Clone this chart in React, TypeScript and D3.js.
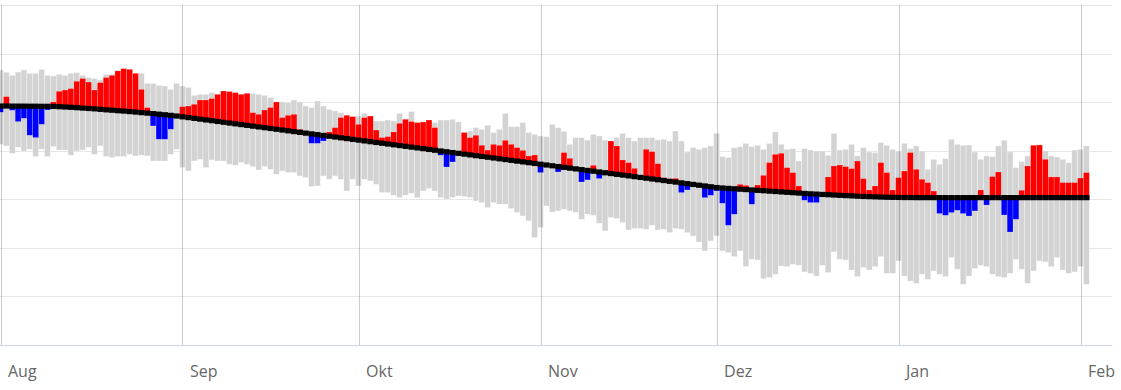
import React, { useEffect, useRef } from 'react'
import * as d3 from 'd3'

// daily values, 1 Aug .. 2 Feb (one row per month)
const START = Date.UTC(2019, 7, 1)
const END_TICK = Date.UTC(2020, 1, 1)
const DAY = 864e5

const monthLabels = ['Aug', 'Sep', 'Okt', 'Nov', 'Dez', 'Jan', 'Feb']
const yTicks = [-15, -10, -5, 0, 5, 10, 15, 20]

const maxTemp = [
  13.31, 13.07, 12.76, 13.10, 13.31, 12.97, 12.97, 13.38, 12.76, 12.69, 12.87, 12.76, 12.97, 13.04, 12.76, 12.53, 12.43, 12.28, 12.87, 12.87, 13.28, 13.45, 13.38, 12.97, 12.97, 11.94, 11.94, 11.74, 11.66, 11.32, 11.94,
  11.66, 11.53, 10.71, 10.81, 10.81, 10.98, 10.81, 11.15, 11.09, 10.98, 10.81, 10.91, 10.91, 10.81, 10.71, 10.47, 10.02, 10.02, 9.95, 10.22, 10.02, 9.60, 9.44, 10.12, 9.60, 9.26, 9.09, 8.92, 8.65, 8.51,
  8.57, 8.85, 8.57, 8.06, 8.06, 8.16, 8.06, 8.85, 8.24, 9.03, 7.90, 7.96, 8.16, 7.90, 8.16, 8.16, 8.24, 7.96, 6.87, 7.03, 7.38, 7.21, 7.62, 6.87, 7.21, 8.85, 7.48, 7.48, 7.90, 6.87, 6.69,
  6.52, 6.45, 7.72, 7.38, 7.00, 5.66, 6.35, 6.35, 6.10, 6.69, 6.52, 6.10, 6.00, 6.35, 6.79, 6.35, 6.00, 6.35, 6.35, 6.35, 6.10, 6.18, 6.00, 7.03, 6.00, 4.87, 5.32, 5.15, 5.32, 5.49,
  6.79, 4.40, 4.29, 5.32, 5.42, 5.76, 5.42, 5.56, 5.15, 5.76, 6.93, 5.66, 5.15, 5.22, 3.94, 5.22, 5.07, 4.97, 4.97, 4.53, 6.79, 5.07, 5.15, 5.66, 4.46, 5.32, 4.87, 4.81, 5.84, 5.56, 5.15,
  4.97, 5.76, 5.22, 5.49, 4.97, 3.09, 4.12, 3.60, 4.19, 6.18, 5.66, 5.56, 5.59, 4.87, 4.12, 4.46, 4.40, 5.49, 6.07, 4.87, 3.26, 3.88, 4.46, 5.59, 5.63, 4.97, 4.46, 4.35, 4.12, 3.78, 5.07,
  5.15, 5.49,
]

const minTemp = [
  5.66, 5.49, 4.74, 5.35, 4.97, 5.15, 4.40, 5.15, 4.40, 5.42, 5.07, 5.07, 4.53, 4.97, 5.07, 5.35, 4.63, 5.49, 4.40, 4.29, 4.40, 4.40, 4.63, 4.46, 4.53, 4.46, 3.94, 3.94, 3.94, 4.63, 5.15,
  3.26, 2.91, 3.94, 4.12, 3.26, 4.05, 3.94, 3.94, 3.60, 3.50, 3.78, 3.60, 3.37, 3.02, 3.37, 3.09, 2.57, 2.91, 2.75, 2.75, 2.40, 2.23, 1.31, 1.37, 2.40, 2.06, 2.40, 2.06, 0.85, 2.06,
  1.37, 2.06, 1.88, 1.54, 0.69, 0.69, 0.41, 0.17, 0.41, 0.62, 0.17, 0.85, 1.10, 0.85, 0.17, 0.00, 0.17, 0.34, 0.28, 0.17, -0.17, -0.34, -0.85, -0.34, -0.51, -0.51, -0.96, -1.37, -1.72, -2.23, -3.94,
  -2.91, -0.69, -1.31, -1.20, -1.03, -1.20, -1.34, -2.06, -1.54, -1.65, -2.47, -3.26, -1.88, -1.99, -2.40, -3.16, -3.02, -3.02, -3.09, -2.68, -3.16, -3.09, -3.43, -3.02, -3.09, -3.43, -3.78, -4.40, -5.32, -4.29,
  -3.78, -5.32, -5.49, -5.90, -5.32, -6.93, -6.18, -6.25, -8.16, -8.06, -7.72, -6.87, -6.93, -6.69, -6.79, -7.48, -7.62, -7.90, -6.79, -7.55, -5.42, -6.18, -6.25, -7.28, -7.96, -7.03, -7.28, -6.93, -5.90, -7.62, -7.62,
  -6.35, -7.90, -8.41, -8.65, -7.72, -8.24, -7.38, -7.72, -7.96, -6.00, -7.21, -8.75, -7.90, -7.13, -6.79, -6.93, -7.72, -7.96, -8.06, -7.62, -6.18, -7.21, -8.65, -7.38, -6.35, -6.45, -6.93, -6.00, -7.28, -7.62, -7.48,
  -6.93, -8.75,
]

const meanTemp = [
  9.60, 9.60, 9.59, 9.59, 9.59, 9.58, 9.58, 9.57, 9.57, 9.56, 9.53, 9.50, 9.47, 9.43, 9.39, 9.35, 9.31, 9.26, 9.21, 9.17, 9.12, 9.08, 9.03, 8.98, 8.92, 8.87, 8.82, 8.76, 8.70, 8.64, 8.57,
  8.49, 8.41, 8.33, 8.25, 8.17, 8.09, 8.01, 7.93, 7.85, 7.77, 7.69, 7.61, 7.53, 7.45, 7.37, 7.29, 7.21, 7.13, 7.05, 6.97, 6.89, 6.81, 6.73, 6.65, 6.57, 6.49, 6.41, 6.33, 6.25, 6.17,
  6.09, 6.01, 5.93, 5.85, 5.77, 5.69, 5.61, 5.53, 5.45, 5.37, 5.29, 5.21, 5.13, 5.05, 4.97, 4.89, 4.81, 4.73, 4.65, 4.57, 4.49, 4.41, 4.33, 4.25, 4.17, 4.09, 4.01, 3.93, 3.85, 3.77, 3.69,
  3.61, 3.53, 3.45, 3.37, 3.29, 3.21, 3.13, 3.05, 2.97, 2.89, 2.81, 2.73, 2.65, 2.57, 2.49, 2.41, 2.33, 2.25, 2.17, 2.09, 2.01, 1.93, 1.85, 1.77, 1.69, 1.61, 1.53, 1.45, 1.37, 1.29,
  1.21, 1.16, 1.12, 1.08, 1.04, 1.00, 0.96, 0.92, 0.88, 0.84, 0.80, 0.76, 0.72, 0.68, 0.64, 0.60, 0.56, 0.53, 0.50, 0.47, 0.44, 0.41, 0.38, 0.35, 0.32, 0.29, 0.27, 0.25, 0.23, 0.21, 0.20,
  0.19, 0.18, 0.18, 0.17, 0.17, 0.17, 0.17, 0.17, 0.17, 0.17, 0.17, 0.17, 0.17, 0.17, 0.17, 0.17, 0.17, 0.17, 0.17, 0.17, 0.17, 0.17, 0.17, 0.17, 0.17, 0.17, 0.17, 0.17, 0.17, 0.17, 0.17,
  0.17, 0.17,
]

const actTemp = [
  8.96, 10.57, 9.16, 8.00, 8.34, 6.59, 6.35, 7.72, 9.19, 10.02, 11.12, 11.25, 11.40, 12.15, 12.43, 12.07, 11.25, 12.01, 12.53, 12.76, 13.21, 13.45, 13.38, 12.97, 11.32, 9.44, 7.55, 6.18, 6.18, 7.21, 8.57,
  9.54, 9.60, 9.78, 10.22, 10.22, 10.37, 10.81, 11.15, 11.09, 10.98, 10.81, 10.91, 8.92, 8.75, 9.19, 9.44, 10.02, 8.41, 8.65, 8.75, 7.21, 6.81, 5.76, 5.76, 6.00, 6.93, 7.38, 8.41, 8.65, 8.51,
  7.72, 8.41, 8.57, 7.13, 6.35, 6.45, 6.93, 7.82, 8.24, 8.00, 7.90, 7.96, 8.16, 7.38, 4.53, 3.32, 3.84, 4.73, 6.87, 6.35, 6.59, 5.56, 5.07, 5.66, 5.56, 6.07, 5.66, 5.32, 5.04, 4.46, 4.56,
  2.75, 3.53, 3.45, 2.81, 4.81, 4.22, 3.13, 1.78, 1.99, 3.50, 2.13, 2.73, 6.00, 5.49, 4.05, 3.78, 3.19, 2.25, 5.15, 4.91, 3.67, 2.23, 1.85, 2.16, 0.69, 0.96, 1.53, 1.45, 0.17, 0.41,
  0.85, -0.41, -2.68, -1.54, 1.54, 1.44, -0.51, 1.47, 2.47, 3.78, 4.63, 4.74, 3.26, 2.75, 1.37, -0.10, -0.34, -0.34, 0.50, 2.30, 3.43, 3.53, 3.37, 3.16, 3.94, 2.13, 0.96, 1.37, 3.78, 2.75, 0.96,
  2.23, 2.91, 4.81, 3.09, 2.06, 1.72, 0.85, -1.47, -1.65, -1.37, -1.13, -1.47, -1.72, -1.20, 0.96, -0.59, 2.34, 2.81, -1.62, -3.37, -2.06, 0.93, 3.43, 5.56, 5.59, 4.12, 2.30, 2.30, 1.72, 1.72, 1.72,
  2.19, 2.75,
]

const width = 1121
const height = 390
const plot = { left: 0, right: 1112, top: 5, bottom: 345 }

export default function App() {
  const ref = useRef<SVGSVGElement>(null)

  useEffect(() => {
    const svg = d3.select(ref.current)
    svg.selectAll('*').remove()

    const x = d3.scaleUtc()
      .domain([new Date(START), new Date(END_TICK)])
      .range([0.5, 1080.5])
    const y = d3.scaleLinear().domain([-15, 20]).range([plot.bottom, plot.top])

    svg.append('defs').append('clipPath').attr('id', 'plotclip')
      .append('rect')
      .attr('x', plot.left).attr('y', plot.top)
      .attr('width', plot.right - plot.left).attr('height', plot.bottom - plot.top)

    // horizontal grid
    svg.append('g').selectAll('line')
      .data(yTicks)
      .enter().append('line')
      .attr('x1', plot.left).attr('x2', plot.right)
      .attr('y1', d => Math.round(y(d)) + 0.5)
      .attr('y2', d => Math.round(y(d)) + 0.5)
      .attr('stroke', '#e6e6e6')

    const days = maxTemp.map((_, i) => {
      const t = START + i * DAY
      return {
        x0: x(new Date(t - DAY / 2)),
        x1: x(new Date(t + DAY / 2)),
        max: maxTemp[i],
        min: minTemp[i],
        mean: meanTemp[i],
        act: actTemp[i],
      }
    })

    const g = svg.append('g').attr('clip-path', 'url(#plotclip)')

    // historic range
    g.append('g').selectAll('rect')
      .data(days)
      .enter().append('rect')
      .attr('x', d => d.x0)
      .attr('width', d => d.x1 - d.x0)
      .attr('y', d => y(d.max))
      .attr('height', d => y(d.min) - y(d.max))
      .attr('fill', '#d3d3d3')
      .attr('stroke', '#ffffff')
      .attr('stroke-width', 0.4)
      .attr('stroke-opacity', 0.8)

    // deviation from mean
    g.append('g').selectAll('rect')
      .data(days.filter(d => d.act !== d.mean))
      .enter().append('rect')
      .attr('x', d => d.x0)
      .attr('width', d => d.x1 - d.x0)
      .attr('y', d => y(Math.max(d.act, d.mean)))
      .attr('height', d => Math.abs(y(d.act) - y(d.mean)))
      .attr('fill', d => (d.act > d.mean ? '#ff0000' : '#0000ff'))
      .attr('stroke', '#ffffff')
      .attr('stroke-width', 0.4)
      .attr('stroke-opacity', 0.5)

    // mean
    g.append('g').selectAll('rect')
      .data(days)
      .enter().append('rect')
      .attr('x', d => d.x0)
      .attr('width', d => d.x1 - d.x0 + 0.2)
      .attr('y', d => y(d.mean) - 2.6)
      .attr('height', 5.2)
      .attr('fill', '#000000')

    // month grid lines + labels
    const months = d3.utcMonth.range(new Date(START), new Date(END_TICK + DAY))
    svg.append('g').selectAll('line')
      .data(months)
      .enter().append('line')
      .attr('x1', d => Math.round(x(d)) + 0.5)
      .attr('x2', d => Math.round(x(d)) + 0.5)
      .attr('y1', plot.top)
      .attr('y2', plot.bottom)
      .attr('stroke', '#000')
      .attr('stroke-opacity', 0.2)

    svg.append('line')
      .attr('x1', plot.left).attr('x2', plot.right)
      .attr('y1', plot.bottom + 0.5).attr('y2', plot.bottom + 0.5)
      .attr('stroke', '#ccd6eb')

    svg.append('g').selectAll('text')
      .data(months)
      .enter().append('text')
      .attr('x', d => x(d) + 7.5)
      .attr('y', 377)
      .attr('fill', '#666666')
      .style('font-family', '"Open Sans", "Noto Sans", sans-serif')
      .style('font-size', '16px')
      .text((_, i) => monthLabels[i])
  }, [])

  return (
    <svg
      ref={ref}
      width={width}
      height={height}
      style={{ position: 'absolute', left: 0, top: 0, background: '#fff' }}
    />
  )
}
